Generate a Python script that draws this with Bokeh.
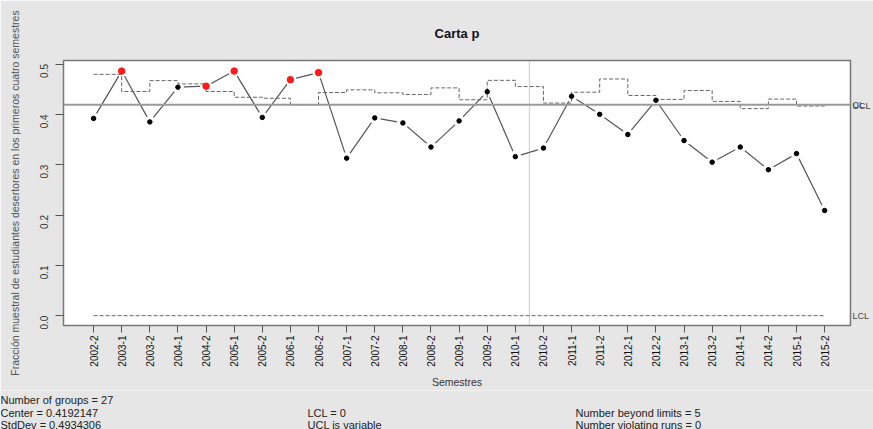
import math
from bokeh.plotting import figure
from bokeh.layouts import column
from bokeh.models import Range1d, FixedTicker, Span, PrintfTickFormatter, LinearAxis
from bokeh.core.properties import value
from bokeh.embed import file_html
from bokeh.resources import INLINE

# ---------------- data ----------------
semesters = ["2002-2", "2003-1", "2003-2", "2004-1", "2004-2", "2005-1", "2005-2",
             "2006-1", "2006-2", "2007-1", "2007-2", "2008-1", "2008-2", "2009-1",
             "2009-2", "2010-1", "2010-2", "2011-1", "2011-2", "2012-1", "2012-2",
             "2013-1", "2013-2", "2014-1", "2014-2", "2015-1", "2015-2"]
p_values = [0.392, 0.486, 0.385, 0.454, 0.456, 0.486, 0.394, 0.469, 0.483,
            0.313, 0.393, 0.383, 0.335, 0.387, 0.445, 0.316, 0.333, 0.436,
            0.400, 0.360, 0.428, 0.348, 0.305, 0.335, 0.290, 0.322, 0.209]
ucl_values = [0.4795, 0.4454, 0.4670, 0.4605, 0.4454, 0.4340, 0.4320, 0.4190, 0.4434,
              0.4487, 0.4428, 0.4395, 0.4526, 0.4290, 0.4676, 0.4552, 0.4224, 0.4440,
              0.4703, 0.4375, 0.4297, 0.4473, 0.4257, 0.4114, 0.4303, 0.4165, 0.4165]
center = 0.4192147
lcl = 0.0
std_dev = 0.4934306
n_calibration = 16
violating_runs = 0
y_ticks = [0.0, 0.1, 0.2, 0.3, 0.4, 0.5]

n = len(p_values)
idx = list(range(1, n + 1))
beyond = [i for i in range(n) if p_values[i] > ucl_values[i]]

FONT = "Liberation Sans"
BG = "#e6e6e6"
W = 873
H_MAIN, H_STATS = 390, 39

p = figure(width=W, height=H_MAIN,
           x_range=Range1d(-0.07, n + 0.92), y_range=Range1d(-0.0195, 0.507),
           output_backend="svg", toolbar_location=None,
           min_border_left=63, min_border_right=20,
           min_border_top=60, min_border_bottom=63,
           background_fill_color="white", border_fill_color=BG,
           title="Carta p")
p.frame_align = False
p.title.align = "center"
p.title.text_font = FONT
p.title.text_font_size = "13px"
p.title.text_font_style = "bold"
p.title.text_color = "#111111"
p.title.standoff = 40

p.outline_line_color = "#777777"
p.outline_line_width = 1.5
p.xgrid.visible = False
p.ygrid.visible = False

# x axis
xa = p.xaxis[0]
xa.ticker = FixedTicker(ticks=idx)
xa.major_label_overrides = {i + 1: s for i, s in enumerate(semesters)}
xa.major_label_orientation = math.pi / 2
xa.major_label_text_font = FONT
xa.major_label_text_font_size = "10px"
xa.major_label_text_color = "#111111"
xa.major_label_standoff = 3
xa.major_tick_out = 7
xa.major_tick_in = 0
xa.minor_tick_line_color = None
xa.major_tick_line_color = "#555555"
xa.axis_line_color = None
xa.axis_label = "Semestres"
xa.axis_label_text_font = FONT
xa.axis_label_text_font_size = "10.5px"
xa.axis_label_text_font_style = "normal"
xa.axis_label_text_color = "#333333"
xa.axis_label_standoff = 6

# y axis
ya = p.yaxis[0]
ya.ticker = FixedTicker(ticks=y_ticks)
ya.formatter = PrintfTickFormatter(format="%.1f")
ya.major_label_orientation = math.pi / 2
ya.major_label_text_font = FONT
ya.major_label_text_font_size = "10px"
ya.major_label_text_color = "#333333"
ya.major_label_standoff = 11
ya.major_tick_out = 8
ya.major_tick_in = 0
ya.minor_tick_line_color = None
ya.major_tick_line_color = "#555555"
ya.axis_line_color = None
ya.axis_label = "Fracción muestral de estudiantes desertores en los primeros cuatro semestres"
ya.axis_label_text_font = FONT
ya.axis_label_text_font_size = "10.5px"
ya.axis_label_text_font_style = "normal"
ya.axis_label_text_color = "#555555"
ya.axis_label_standoff = 13

# right-hand limit labels as an axis
ra = LinearAxis(ticker=FixedTicker(ticks=[lcl, center, ucl_values[-1]]),
                major_label_overrides={lcl: "LCL", center: "CL", ucl_values[-1]: "UCL"},
                major_tick_out=0, major_tick_in=0, minor_tick_line_color=None,
                axis_line_color=None, major_label_standoff=2,
                major_label_text_font=FONT, major_label_text_font_size="9px",
                major_label_text_color="#444444")
p.add_layout(ra, "right")

# center line and calibration separator
p.add_layout(Span(location=center, dimension="width", line_color="#9a9a9a", line_width=2))
p.add_layout(Span(location=n_calibration + 0.5, dimension="height", line_color="#9a9a9a",
                  line_width=1, line_dash="1 1"))

# data line, with small gaps around the points (as in R's type = "b")
p.line(idx, p_values, line_color="#555555", line_width=1.2)
p.scatter(idx, p_values, size=11, color="white")

# control limits (step)
p.step(idx, ucl_values, mode="after", line_color="#666666", line_width=1, line_dash="4 2")
p.step(idx, [lcl] * n, mode="after", line_color="#666666", line_width=1, line_dash="4 2")

# points
p.scatter(idx, p_values, size=4.5, color="black")
p.scatter([idx[i] for i in beyond], [p_values[i] for i in beyond], size=6.5, color="#ff1a1a")

# ---------------- statistics strip ----------------
s = figure(width=W, height=H_STATS, x_range=Range1d(0, W), y_range=Range1d(H_STATS, 0),
           output_backend="svg", toolbar_location=None,
           x_axis_type=None, y_axis_type=None,
           min_border_left=0, min_border_right=0, min_border_top=0, min_border_bottom=0,
           background_fill_color=BG, border_fill_color=BG, outline_line_color=None)
s.frame_align = False
s.xgrid.visible = False
s.ygrid.visible = False
stat_texts = [f"Number of groups = {n}", f"Center = {center}", f"StdDev = {std_dev}",
              f"LCL = {lcl:g}", "UCL is variable",
              f"Number beyond limits = {len(beyond)}",
              f"Number violating runs = {violating_runs}"]
stat_x = [0, 0, 0, 307, 307, 575, 575]
stat_y = [9, 22, 34, 22, 34, 22, 34]
s.text(x=stat_x, y=stat_y, text=stat_texts, text_font=value(FONT), text_font_size="11px",
       text_color="#222222", text_baseline="middle", text_align="left")

layout = column(p, s, spacing=0)
open("out.html", "w").write(file_html(layout, INLINE))
